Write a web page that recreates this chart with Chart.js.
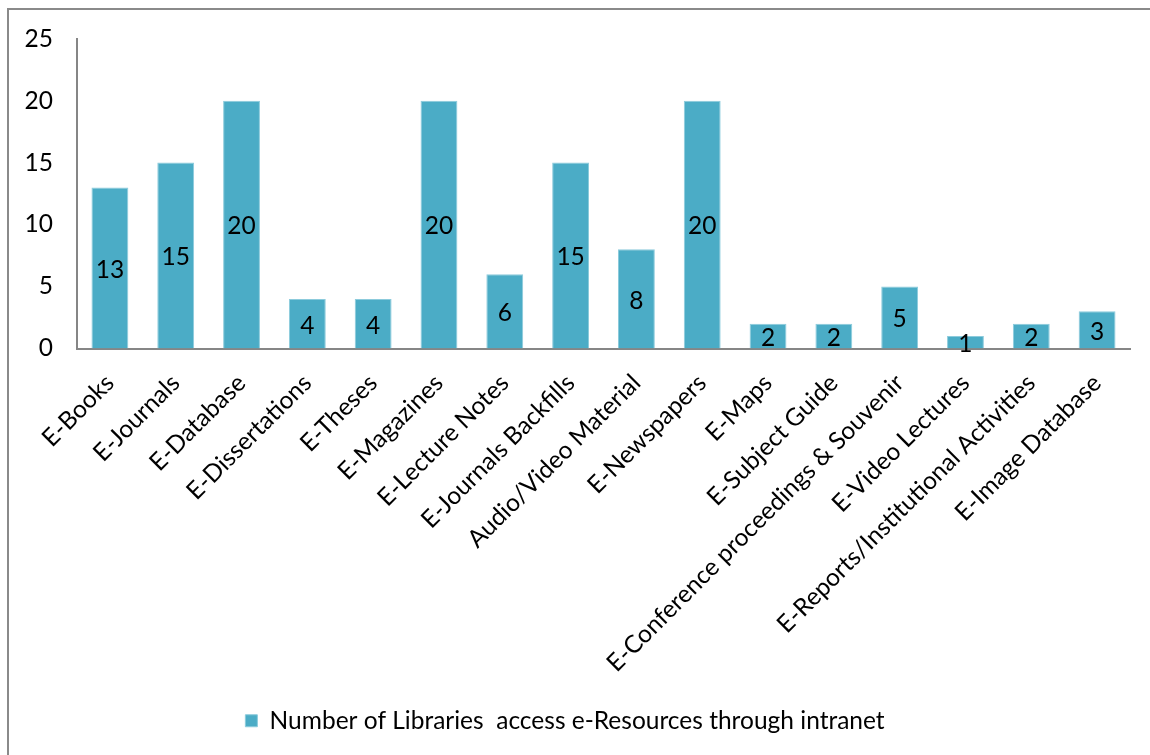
<!DOCTYPE html>
<html lang="en">
<head>
    <meta charset="UTF-8">
    <title>e-Resources through intranet</title>
    <script src="https://cdn.jsdelivr.net/npm/chart.js"></script>
    <style>
        html, body {
            margin: 0;
            padding: 0;
            background: #fff;
            overflow: hidden;
        }
        /* Grey frame round the chart, running off the right and bottom edges */
        .frame {
            position: absolute;
            left: 7px;
            top: 8px;
            width: 1200px;
            height: 800px;
            border: 2px solid #8a8a8a;
        }
        .chart-container {
            position: absolute;
            left: 0;
            top: 0;
            width: 1150px;
            height: 755px;
        }
    </style>
</head>
<body>
    <div class="frame"></div>
    <div class="chart-container">
        <canvas id="intranetChart"></canvas>
    </div>

    <script>
        const categories = [
            'E-Books', 'E-Journals', 'E-Database', 'E-Dissertations', 'E-Theses',
            'E-Magazines', 'E-Lecture Notes', 'E-Journals Backfills', 'Audio/Video Material',
            'E-Newspapers', 'E-Maps', 'E-Subject Guide', 'E-Conference proceedings & Souvenir',
            'E-Video Lectures', 'E-Reports/Institutional Activities', 'E-Image Database'
        ];
        const libraryCounts = [13, 15, 20, 4, 4, 20, 6, 15, 8, 20, 2, 2, 5, 1, 2, 3];
        const seriesName = 'Number of Libraries  access e-Resources through intranet';

        const barColor = '#4bacc6';
        const axisColor = '#868686';
        const fontFamily = 'Lato, "Open Sans", sans-serif';
        const fontSize = 24.5;

        // value printed in the middle of each bar
        const barValues = {
            id: 'barValues',
            afterDatasetsDraw(chart) {
                const ctx = chart.ctx;
                ctx.save();
                ctx.font = fontSize + 'px ' + fontFamily;
                ctx.fillStyle = '#000';
                ctx.textAlign = 'center';
                ctx.textBaseline = 'middle';
                chart.getDatasetMeta(0).data.forEach((bar, i) => {
                    const midY = (bar.y + bar.base) / 2;
                    ctx.fillText(String(libraryCounts[i]), bar.x, midY + 2);
                });
                ctx.restore();
            }
        };

        const ctx = document.getElementById('intranetChart').getContext('2d');
        new Chart(ctx, {
            type: 'bar',
            data: {
                labels: categories,
                datasets: [{
                    label: seriesName,
                    data: libraryCounts,
                    backgroundColor: barColor,
                    borderColor: '#8ccbdc',
                    borderWidth: 1,
                    barPercentage: 0.56,
                    categoryPercentage: 1
                }]
            },
            options: {
                responsive: true,
                maintainAspectRatio: false,
                animation: false,
                layout: {
                    padding: { left: 0, right: 20, top: 38, bottom: 12 }
                },
                scales: {
                    x: {
                        grid: { display: false, drawTicks: false },
                        border: { display: true, color: axisColor, width: 2 },
                        ticks: {
                            color: '#000',
                            font: { family: fontFamily, size: fontSize },
                            minRotation: 45,
                            maxRotation: 45,
                            autoSkip: false,
                            padding: 20
                        },
                        afterFit(scale) { scale.height = 350; }
                    },
                    y: {
                        min: 0,
                        max: 25,
                        grid: { display: false, drawTicks: false },
                        border: { display: true, color: axisColor, width: 2 },
                        ticks: {
                            stepSize: 5,
                            color: '#000',
                            font: { family: fontFamily, size: fontSize },
                            padding: 24
                        },
                        afterFit(scale) { scale.width = 77; }
                    }
                },
                plugins: {
                    legend: {
                        position: 'bottom',
                        labels: {
                            color: '#000',
                            font: { family: fontFamily, size: fontSize },
                            boxWidth: 12,
                            boxHeight: 12,
                            padding: 10
                        }
                    },
                    tooltip: { enabled: false }
                }
            },
            plugins: [barValues]
        });
    </script>
</body>
</html>
